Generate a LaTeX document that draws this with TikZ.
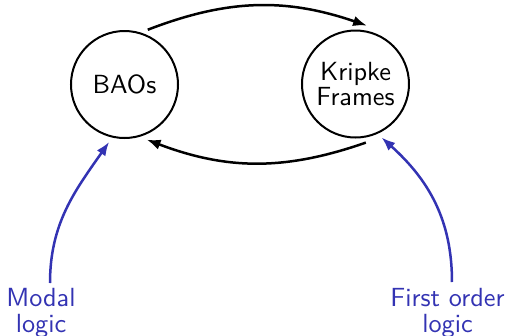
\documentclass[tikz,border=0pt]{standalone}
\usetikzlibrary{arrows.meta}
\definecolor{struct}{RGB}{51,51,179}
\begin{document}
\begin{tikzpicture}[x=0.4pt,y=-0.4pt,
  every node/.style={font=\fontsize{10.5}{10.3}\selectfont\sffamily},
  world/.style={draw, circle, line width=0.8pt, minimum size=42.8pt, inner sep=0pt, outer sep=2.4pt, align=center},
  label/.style={text=struct, align=center, inner sep=0pt},
  mainarrow/.style={line width=1pt, -{Latex[length=5.5pt,width=4.2pt]}},
  bluearrow/.style={line width=1pt, draw=struct, -{Latex[length=5.5pt,width=4.2pt]}, fill=none}
]
\useasboundingbox (0,0) rectangle (509,335);
\node[world] (bao) at (124.5,84.5) {BAOs};
\node[world] (kf) at (355.5,84) {Kripke\\Frames};
\node[label, anchor=north] (modal) at (41,288) {Modal\\logic};
\node[label, anchor=north] (fol) at (447.5,288) {First order\\logic};
\draw[mainarrow] (bao.67) to[bend left=20] (kf.79);
\draw[mainarrow] (kf.-80) to[bend left=20] (bao.-68);
\draw[bluearrow] ([shift={(9,-5)}]modal.north) to[out=90,in=235] (bao.-105);
\draw[bluearrow] ([shift={(4.5,-6)}]fol.north) to[out=90,in=-42] (kf.-64);
\end{tikzpicture}
\end{document}
